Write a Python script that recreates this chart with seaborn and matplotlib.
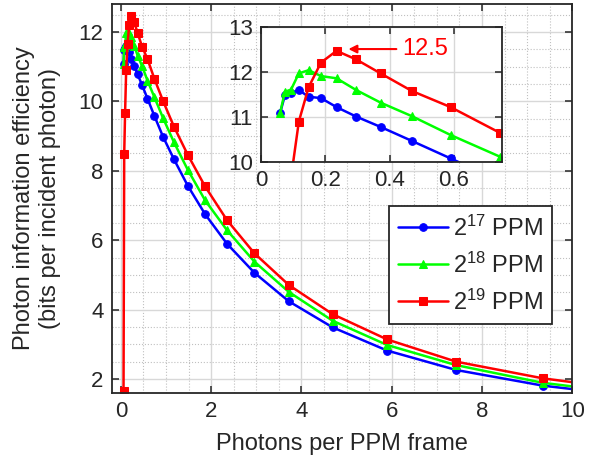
import matplotlib
matplotlib.use('Agg')
import matplotlib.pyplot as plt
import seaborn as sns
from matplotlib.ticker import MultipleLocator

# data (photons per PPM frame vs. bits per incident photon)
photons = [0.059, 0.0743, 0.0935, 0.1177, 0.148, 0.1866, 0.235, 0.296, 0.372, 0.469,
           0.590, 0.743, 0.935, 1.177, 1.482, 1.866, 2.35, 2.96, 3.72, 4.69, 5.90,
           7.43, 9.35, 11.77]
pie_17 = [11.08, 11.48, 11.53, 11.60, 11.45, 11.42, 11.22, 11.01, 10.78, 10.47,
          10.08, 9.58, 8.98, 8.33, 7.57, 6.75, 5.90, 5.06, 4.24, 3.49, 2.82,
          2.26, 1.81, 1.44]
pie_18 = [11.08, 11.56, 11.61, 11.97, 12.04, 11.91, 11.86, 11.60, 11.32, 11.02,
          10.60, 10.12, 9.52, 8.82, 8.03, 7.15, 6.29, 5.38, 4.51, 3.68, 2.98,
          2.40, 1.89, 1.51]
pie_19 = [1.65, 8.48, 9.66, 10.90, 11.66, 12.21, 12.47, 12.28, 11.97, 11.58,
          11.22, 10.65, 10.01, 9.27, 8.46, 7.55, 6.58, 5.62, 4.71, 3.87, 3.14,
          2.50, 2.02, 1.61]
labels = ['$\\mathregular{2^{17}}$ PPM', '$\\mathregular{2^{18}}$ PPM', '$\\mathregular{2^{19}}$ PPM']
series = [pie_17, pie_18, pie_19]
colors = ['#0000ff', '#00ff00', '#ff0000']
markers = ['o', '^', 's']
peak_label = '12.5'

sns.set_theme(style='white')
plt.rcParams['font.family'] = ['Liberation Sans', 'DejaVu Sans']
plt.rcParams['mathtext.fontset'] = 'custom'
plt.rcParams['mathtext.rm'] = 'Liberation Sans'
ink = '#262626'


def style_axes(ax, minor=True):
    for s in ax.spines.values():
        s.set_color(ink)
        s.set_linewidth(1.3)
        s.set_visible(True)
    ax.tick_params(which='major', direction='in', length=5, width=1.1, color=ink,
                   top=True, right=True, bottom=True, left=True,
                   labelsize=16, labelcolor=ink, pad=6)
    ax.grid(True, which='major', color='#d8d8d8', linestyle='-', linewidth=1.0)
    if minor:
        ax.tick_params(which='minor', length=0)
        ax.grid(True, which='minor', color='#c0c0c0', linestyle=':', linewidth=0.8)
    ax.set_axisbelow(True)


def draw(ax, with_labels):
    for ys, c, m, lab in zip(series, colors, markers, labels):
        sns.lineplot(x=photons, y=ys, ax=ax, color=c, marker=m, markersize=5.5,
                     markeredgecolor=c, linewidth=1.8, label=lab if with_labels else None,
                     legend=False, clip_on=True)


fig = plt.figure(figsize=(5.98, 4.65), dpi=100)
ax = fig.add_axes([0.187, 0.155, 0.770, 0.836])
draw(ax, True)
ax.set_xlim(-0.2, 10)
ax.set_ylim(1.6, 12.8)
ax.set_xticks([0, 2, 4, 6, 8, 10])
ax.set_yticks([2, 4, 6, 8, 10, 12])
ax.xaxis.set_minor_locator(MultipleLocator(0.5))
ax.yaxis.set_minor_locator(MultipleLocator(0.5))
style_axes(ax)
ax.set_xlabel('Photons per PPM frame', fontsize=17, color=ink, labelpad=8)
ax.set_ylabel('Photon information efficiency\n(bits per incident photon)',
              fontsize=17, color=ink, labelpad=13, linespacing=1.2)
leg = ax.legend(loc='lower right', bbox_to_anchor=(0.957, 0.177), borderaxespad=0,
                fontsize=17, frameon=True, fancybox=False, framealpha=1,
                handlelength=2.1, handletextpad=0.2, labelspacing=0.5,
                borderpad=0.4)
leg.get_frame().set_edgecolor(ink)
leg.get_frame().set_linewidth(1.3)

# inset zoom on the peak
axi = fig.add_axes([0.4365, 0.6516, 0.403, 0.2903])
axi.set_facecolor('white')
draw(axi, False)
axi.set_xlim(0, 0.75)
axi.set_ylim(10, 13)
axi.set_xticks([0, 0.2, 0.4, 0.6])
axi.set_xticklabels(['0', '0.2', '0.4', '0.6'])
axi.set_yticks([10, 11, 12, 13])
style_axes(axi, minor=False)
axi.annotate(peak_label, xy=(0.272, 12.51), xytext=(0.44, 12.51),
             color='#ff0000', fontsize=17, va='center', ha='left',
             arrowprops=dict(arrowstyle='-|>', color='#ff0000', lw=1.5,
                             mutation_scale=12, shrinkA=2, shrinkB=0))

fig.savefig('out.png', dpi=100)
